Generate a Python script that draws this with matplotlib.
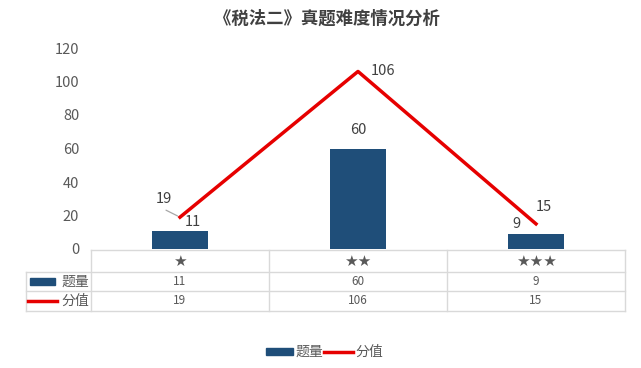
import matplotlib
matplotlib.use("Agg")
import matplotlib.pyplot as plt
from matplotlib.lines import Line2D
from matplotlib.patches import Rectangle

plt.rcParams['font.family'] = ['Noto Sans CJK SC', 'DejaVu Sans']

# data
categories = ["★", "★★", "★★★"]
counts = [11, 60, 9]          # 题量
scores = [19, 106, 15]        # 分值
series_names = ["题量", "分值"]
title = "《税法二》真题难度情况分析"

bar_color = "#1f4e79"
line_color = "#e60000"
text_color = "#595959"
grid_color = "#d9d9d9"

W, H = 641, 368
fig = plt.figure(figsize=(W / 100, H / 100), dpi=100)


def fx(px):
    return px / W


def fy(py):
    return 1 - py / H


# plot area in pixels: x 91..625, y 48 (120) .. 249 (0)
ax = fig.add_axes([fx(91), fy(249), fx(625) - fx(91), fy(48) - fy(249)])
x = list(range(len(categories)))
ax.bar(x, counts, width=0.32, color=bar_color, zorder=2)
ax.plot(x, scores, color=line_color, linewidth=2.5, zorder=3)
ax.set_xlim(-0.5, 2.5)
ax.set_ylim(0, 120)
ax.set_yticks(range(0, 121, 20))
ax.set_xticks([])
ax.tick_params(axis='y', length=0, labelsize=10.5, labelcolor=text_color, pad=8.5)
for s in ax.spines.values():
    s.set_visible(False)
ax.patch.set_alpha(0)

# data labels
bar_offsets = [(13, 9), (0, 18), (-20, 10)]
for xi, v, off in zip(x, counts, bar_offsets):
    ax.annotate(str(v), (xi, v), xytext=off, textcoords='offset pixels',
                ha='center', va='center', fontsize=10.5, color='#404040')

line_offsets = [(-16, 18), (25, 0), (8, 17)]
for xi, v, off in zip(x, scores, line_offsets):
    ax.annotate(str(v), (xi, v), xytext=off, textcoords='offset pixels',
                ha='center', va='center', fontsize=10.5, color='#404040')

# leader line for the first line label
ax.annotate('', (x[0], scores[0]), xytext=(-14, 7), textcoords='offset pixels',
            arrowprops=dict(arrowstyle='-', color='#a6a6a6', lw=0.9,
                            shrinkA=0, shrinkB=2))

# title
fig.text(fx(327), fy(19), title, ha='center', va='center', fontsize=12.5,
         fontweight='bold', color='#404040')

# data table below the plot
col_edges = [91, 269, 447, 625]
row_edges = [250, 272, 291, 311]
key_left = 26


def hline(px0, px1, py):
    fig.add_artist(Line2D([fx(px0), fx(px1)], [fy(py), fy(py)], color=grid_color, lw=1))


def vline(px, py0, py1):
    fig.add_artist(Line2D([fx(px), fx(px)], [fy(py0), fy(py1)], color=grid_color, lw=1))


hline(col_edges[0], col_edges[-1], row_edges[0])
for ry in row_edges[1:]:
    hline(key_left, col_edges[-1], ry)
for cx in col_edges:
    vline(cx, row_edges[0], row_edges[-1])
vline(key_left, row_edges[1], row_edges[-1])

for i, cat in enumerate(categories):
    cx = (col_edges[i] + col_edges[i + 1]) / 2
    fig.text(fx(cx), fy(261), cat, ha='center', va='center', fontsize=11,
             color=text_color, family='DejaVu Sans')
    fig.text(fx(cx), fy(281.5), str(counts[i]), ha='center', va='center',
             fontsize=8.5, color=text_color)
    fig.text(fx(cx), fy(301), str(scores[i]), ha='center', va='center',
             fontsize=8.5, color=text_color)

# legend keys inside the table
fig.add_artist(Rectangle((fx(30), fy(284.5)), fx(55) - fx(30), fy(278) - fy(284.5),
                         color=bar_color, transform=fig.transFigure))
fig.text(fx(75), fy(281.5), series_names[0], ha='center', va='center',
         fontsize=10, color=text_color)
fig.add_artist(Line2D([fx(28), fx(57)], [fy(301), fy(301)], color=line_color, lw=2.5))
fig.text(fx(75), fy(301), series_names[1], ha='center', va='center',
         fontsize=10, color=text_color)

# bottom legend
fig.add_artist(Rectangle((fx(266), fy(355)), fx(293) - fx(266), fy(348) - fy(355),
                         color=bar_color, transform=fig.transFigure))
fig.text(fx(309), fy(352), series_names[0], ha='center', va='center',
         fontsize=10, color=text_color)
fig.add_artist(Line2D([fx(324), fx(353)], [fy(352), fy(352)], color=line_color, lw=2.5))
fig.text(fx(369), fy(352), series_names[1], ha='center', va='center',
         fontsize=10, color=text_color)

fig.savefig("out.png", dpi=100)
